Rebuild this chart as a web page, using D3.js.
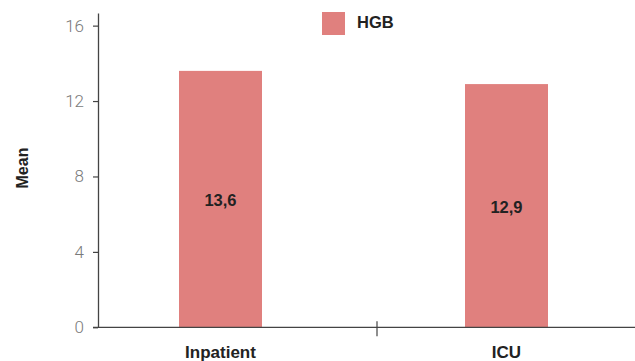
<!DOCTYPE html>
<html><head><meta charset="utf-8">
<script src="https://cdn.jsdelivr.net/npm/d3@7"></script>
<style>body{margin:0;background:#fff}</style>
</head><body>
<script>
const categories = ["Inpatient", "ICU"];
const values = [13.6, 12.9];
const valueLabels = ["13,6", "12,9"];
const yTicks = [0, 4, 8, 12, 16];
const seriesName = "HGB";

const W = 635, H = 361;
const color = "#E0807E";
const axisColor = "#444";
const svg = d3.select("body").append("svg").attr("width", W).attr("height", H)
  .style("font-family", "'Liberation Sans', Arial, sans-serif");

const x0 = 98, yBase = 327.3;
const y = d3.scaleLinear().domain([0, 16.67]).range([yBase, 13]);
const x = d3.scaleBand().domain(categories).range([77.5, 649.5]).padding(0);
const barW = 83;

// bars
svg.selectAll("rect.bar").data(categories).enter().append("rect")
  .attr("x", (d) => x(d) + x.bandwidth() / 2 - barW / 2)
  .attr("width", barW)
  .attr("y", (d, i) => y(values[i]))
  .attr("height", (d, i) => yBase - y(values[i]))
  .attr("fill", color);

// value labels
svg.selectAll("text.val").data(categories).enter().append("text")
  .attr("x", (d) => x(d) + x.bandwidth() / 2)
  .attr("y", (d, i) => y(values[i] / 2) + 7)
  .attr("text-anchor", "middle")
  .attr("font-size", 16.5).attr("font-weight", "bold").attr("fill", "#222")
  .text((d, i) => valueLabels[i]);

// y axis
const yAxis = svg.append("g").attr("transform", `translate(${x0},0)`)
  .call(d3.axisLeft(y).tickValues(yTicks).tickSize(5).tickPadding(9).tickSizeOuter(0));
yAxis.select(".domain").attr("stroke", axisColor).attr("stroke-width", 1.3);
yAxis.selectAll(".tick line").attr("stroke", axisColor).attr("stroke-width", 1.2);
yAxis.selectAll(".tick text").attr("font-size", 17).attr("fill", "#7a7a7a")
  .attr("font-family", "Roboto, 'Liberation Sans', sans-serif").attr("font-weight", 300);

// x axis line
svg.append("line").attr("x1", x0 - 5).attr("x2", W).attr("y1", yBase).attr("y2", yBase)
  .attr("stroke", axisColor).attr("stroke-width", 1.3);
// separator tick
svg.append("line").attr("x1", 377).attr("x2", 377).attr("y1", yBase - 6).attr("y2", yBase + 9)
  .attr("stroke", axisColor).attr("stroke-width", 1.2);

// category labels
svg.selectAll("text.cat").data(categories).enter().append("text")
  .attr("x", (d) => x(d) + x.bandwidth() / 2)
  .attr("y", 357.5)
  .attr("text-anchor", "middle")
  .attr("font-size", 17).attr("font-weight", "bold").attr("fill", "#222")
  .text((d) => d);

// y title
svg.append("text").attr("transform", "translate(28,168) rotate(-90)")
  .attr("text-anchor", "middle").attr("font-size", 16).attr("font-weight", "bold").attr("fill", "#222")
  .text("Mean");

// legend
svg.append("rect").attr("x", 322).attr("y", 12).attr("width", 23).attr("height", 23).attr("fill", color);
svg.append("text").attr("x", 357).attr("y", 28).attr("font-size", 16.5).attr("font-weight", "bold")
  .attr("fill", "#222").text(seriesName);
</script>
</body></html>
